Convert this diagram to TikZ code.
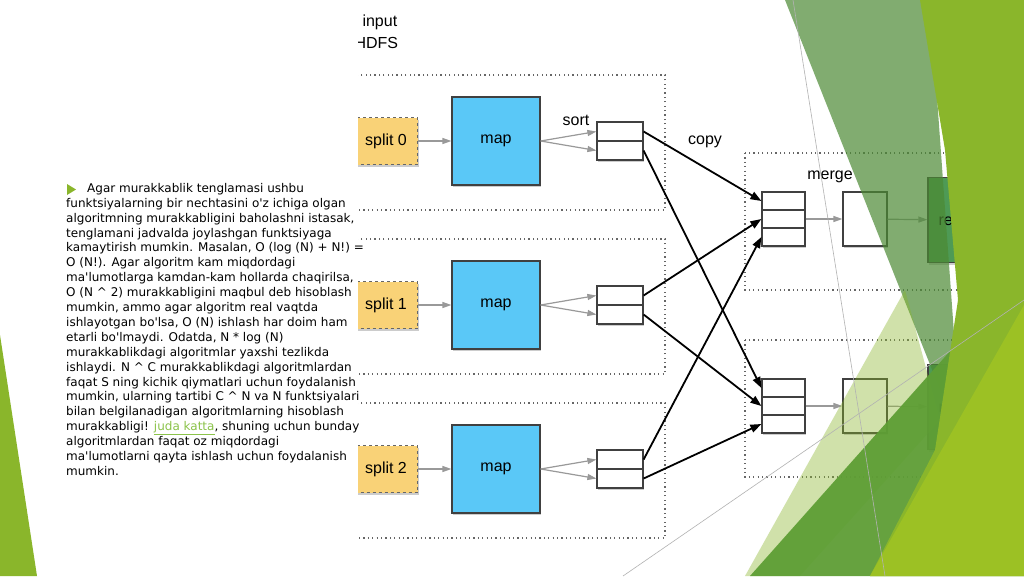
\documentclass[tikz,border=0pt]{standalone}
\usepackage{fontspec}
\usepackage{xcolor}
\usetikzlibrary{arrows.meta,shadows}
\newfontfamily\slidefont{DejaVu Sans}
\newfontfamily\figfont{Liberation Sans}
\definecolor{splitorange}{HTML}{F9D277}
\definecolor{mapblue}{HTML}{5AC8F7}
\definecolor{reducegreen}{HTML}{4E9A55}
\definecolor{linkgreen}{HTML}{8BC34A}
\definecolor{leafgreen}{HTML}{8AB62B}
\definecolor{midgreen}{HTML}{5E9E35}
\definecolor{darkgreen}{HTML}{4C8A34}
\tikzset{
  box/.style={draw=black!75, line width=1.2pt, drop shadow={opacity=0.4, shadow xshift=1pt, shadow yshift=-2pt}},
  dotbox/.style={draw=black!60, line width=1.2pt, dash pattern=on 1.2pt off 3.2pt},
  feed/.style={-{Triangle[length=9pt,width=6pt]}, draw=black!40, line width=1.2pt},
  copyarrow/.style={-{Triangle[length=11pt,width=8pt]}, line width=1.8pt},
  figtext/.style={font=\figfont\fontsize{16}{16}\selectfont},
}
\begin{document}
\begin{tikzpicture}[x=1pt,y=-1pt]
\useasboundingbox (0,0) rectangle (1024,576);
\fill[white] (0,0) rectangle (1024,576);
\begin{scope}
\clip (358,0) rectangle (1024,576);
\node[anchor=west, figtext] (input) at (359,22) {input};
\node[anchor=west, figtext] (hdfs) at (351,43) {HDFS};
% map side
\foreach \i/\dy in {0/0,1/164,2/328}{
  \draw[dotbox] (340,75+\dy) rectangle (665,210+\dy);
  \node[box, fill=splitorange, draw=black!60, dashed, minimum width=63pt, minimum height=47pt,
        figtext] (split\i) at (386,141+\dy) {split \i};
  \node[box, fill=mapblue, minimum width=88pt, minimum height=88pt, figtext] (map\i) at (496,141+\dy) {map};
  \node[box, fill=white, minimum width=46pt, minimum height=19pt, inner sep=0pt] (pa\i) at (620,131.5+\dy) {};
  \node[box, fill=white, minimum width=46pt, minimum height=19pt, inner sep=0pt] (pb\i) at (620,150.5+\dy) {};
  \draw[feed] (split\i) -- (map\i);
  \draw[feed] (map\i.east) -- (pa\i.west);
  \draw[feed] (map\i.east) -- (pb\i.west);
}
\node[figtext] (sort) at (576,120) {sort};
\node[figtext] (copy) at (705,142) {copy};
% reduce side
\foreach \j/\dy in {0/0,1/187}{
  \draw[dotbox] (745,153+\dy) rectangle (1000,290+\dy);
  \node[box, fill=white, minimum width=43pt, minimum height=18pt, inner sep=0pt] (ma\j) at (783.5,201+\dy) {};
  \node[box, fill=white, minimum width=43pt, minimum height=18pt, inner sep=0pt] (mb\j) at (783.5,219+\dy) {};
  \node[box, fill=white, minimum width=43pt, minimum height=18pt, inner sep=0pt] (mc\j) at (783.5,237+\dy) {};
  \node[box, fill=white, minimum width=44pt, minimum height=54pt] (sm\j) at (865,219+\dy) {};
  \node[box, fill=reducegreen, minimum width=70pt, minimum height=85pt, figtext] (red\j) at (963,220+\dy) {reduce};
  \draw[feed] (mb\j) -- (sm\j);
  \draw[feed] (sm\j) -- (red\j);
}
\node[figtext] (merge) at (830,177) {merge};
\draw[copyarrow] (pa0.east) -- (ma0.west);
\draw[copyarrow] (pb0.east) -- (ma1.west);
\draw[copyarrow] (pa1.east) -- (mb0.west);
\draw[copyarrow] (pb1.east) -- (mb1.west);
\draw[copyarrow] (pa2.east) -- (mc0.west);
\draw[copyarrow] (pb2.east) -- (mc1.west);
\end{scope}
% slide decoration
\fill[leafgreen] (0,335) -- (37,576) -- (0,576) -- cycle;
\fill[darkgreen, opacity=0.7] (785,0) -- (930,0) -- (962,445) -- cycle;
\fill[leafgreen, opacity=0.4] (745,576) -- (905,290) -- (940,420) -- (800,576) -- cycle;
\fill[midgreen, opacity=0.95] (750,576) -- (1024,268) -- (1024,576) -- cycle;
\fill[leafgreen] (920,0) -- (1024,0) -- (1024,576) -- (870,576) -- (935,450) -- (958,300) -- (945,150) -- cycle;
\fill[leafgreen!85!yellow] (870,576) -- (1024,305) -- (1024,576) -- cycle;
\draw[black!30, line width=0.6pt] (793,0) -- (885,576);
\draw[black!30, line width=0.6pt] (623,576) -- (1024,300);
% text
\fill[leafgreen] (67,184) -- (76,189.5) -- (67,195) -- cycle;
\node[anchor=north west, align=left, inner sep=0pt, font=\slidefont\fontsize{12}{14.9}\selectfont] (body) at (66,183) {%
\hspace{21pt}Agar murakkablik tenglamasi ushbu\\
funktsiyalarning bir nechtasini o'z ichiga olgan\\
algoritmning murakkabligini baholashni istasak,\\
tenglamani jadvalda joylashgan funktsiyaga\\
kamaytirish mumkin. Masalan, O (log (N) + N!) =\\
O (N!). Agar algoritm kam miqdordagi\\
ma'lumotlarga kamdan-kam hollarda chaqirilsa,\\
O (N \^{} 2) murakkabligini maqbul deb hisoblash\\
mumkin, ammo agar algoritm real vaqtda\\
ishlayotgan bo'lsa, O (N) ishlash har doim ham\\
etarli bo'lmaydi. Odatda, N * log (N)\\
murakkablikdagi algoritmlar yaxshi tezlikda\\
ishlaydi. N \^{} C murakkablikdagi algoritmlardan\\
faqat S ning kichik qiymatlari uchun foydalanish\\
mumkin, ularning tartibi C \^{} N va N funktsiyalari\\
bilan belgilanadigan algoritmlarning hisoblash\\
murakkabligi! \textcolor{linkgreen}{\underline{juda katta}}, shuning uchun bunday\\
algoritmlardan faqat oz miqdordagi\\
ma'lumotlarni qayta ishlash uchun foydalanish\\
mumkin.};
\end{tikzpicture}
\end{document}
